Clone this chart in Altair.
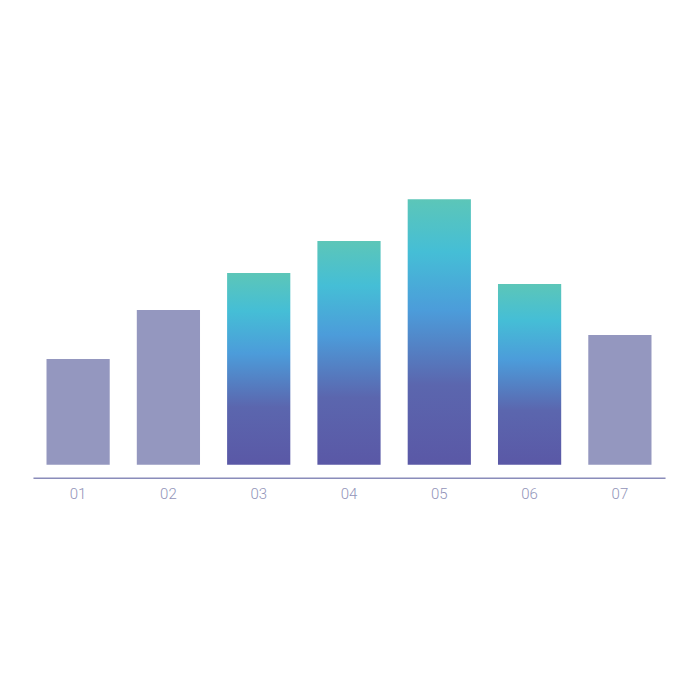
import altair as alt
import pandas as pd

categories = ["01", "02", "03", "04", "05", "06", "07"]
values = [106, 155, 192, 224, 266, 181, 130]
highlight = [False, False, True, True, True, True, False]

df = pd.DataFrame({"cat": categories, "value": values, "hl": highlight})

gradient = alt.Gradient(
    gradient="linear",
    stops=[
        alt.GradientStop(color="#5a58a6", offset=0),
        alt.GradientStop(color="#5b66ae", offset=0.3),
        alt.GradientStop(color="#4c9cda", offset=0.58),
        alt.GradientStop(color="#45bed6", offset=0.8),
        alt.GradientStop(color="#5cc6b8", offset=1),
    ],
    x1=0, y1=1, x2=0, y2=0,
)

x = alt.X(
    "cat:N",
    sort=categories,
    scale=alt.Scale(paddingInner=0.3, paddingOuter=0.15),
    axis=alt.Axis(
        title=None, offset=13, domainColor="#8a8cba", domainWidth=1.5,
        ticks=False, labelAngle=0, labelColor="#9294b9", labelFontSize=15,
        labelFont="Roboto", labelFontWeight=300, labelPadding=9,
    ),
)
y = alt.Y("value:Q", scale=alt.Scale(domain=[0, 300]), axis=None)

base = alt.Chart(df)
gray = base.transform_filter("!datum.hl").mark_bar(color="#9497bf").encode(x=x, y=y)
grad = base.transform_filter("datum.hl").mark_bar(color=gradient).encode(x=x, y=y)

chart = alt.layer(gray, grad).properties(
    width=633, height=300,
    autosize=alt.AutoSizeParams(type="none"),
    padding={"left": 25, "top": 157, "right": 27, "bottom": 100},
).configure(background="white").configure_view(strokeWidth=0, stroke="transparent")

chart.save("out.html", embed_options={"renderer": "svg", "actions": False})
